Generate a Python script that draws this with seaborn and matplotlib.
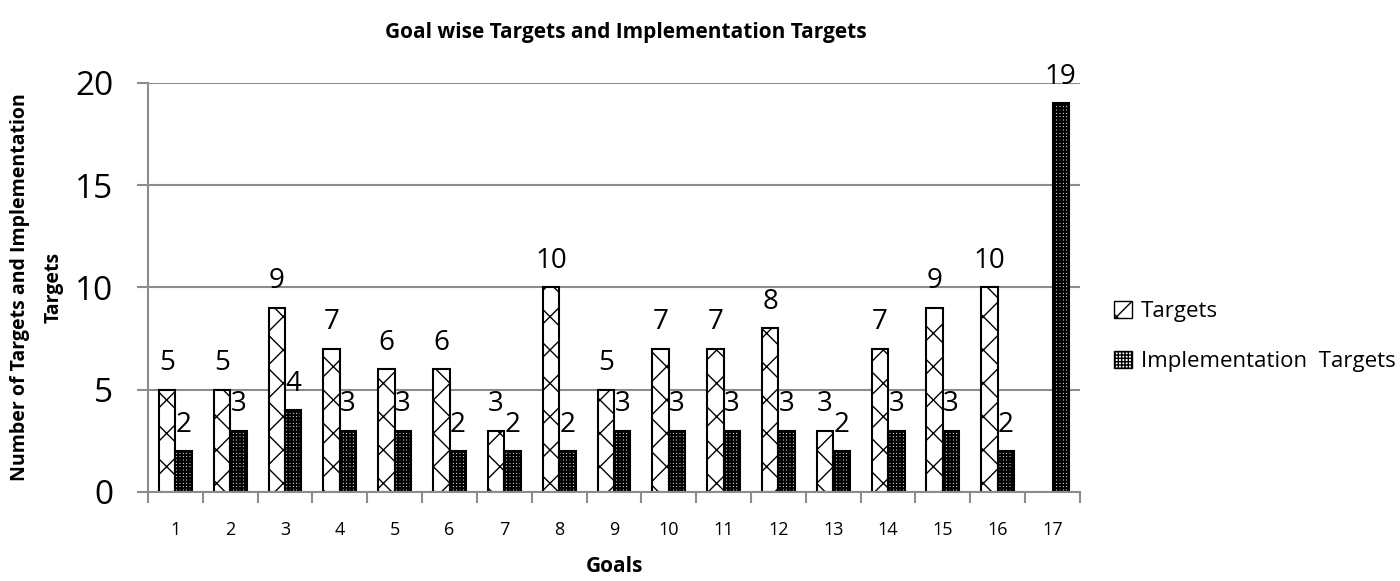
import numpy as np
import pandas as pd
import matplotlib
matplotlib.use("Agg")
import matplotlib.pyplot as plt
from matplotlib.patches import Patch
import seaborn as sns

goals = [str(i) for i in range(1, 18)]
targets = [5, 5, 9, 7, 6, 6, 3, 10, 5, 7, 7, 8, 3, 7, 9, 10, np.nan]
impl_targets = [2, 3, 4, 3, 3, 2, 2, 2, 3, 3, 3, 3, 2, 3, 3, 2, 19]
series_names = ["Targets", "Implementation  Targets"]

sns.set_theme(style="white")
plt.rcParams["font.family"] = ["Open Sans", "DejaVu Sans"]
plt.rcParams["hatch.linewidth"] = 1.0
plt.rcParams["text.color"] = "black"
plt.rcParams["axes.labelcolor"] = "black"

df = pd.DataFrame({
    "Goal": goals * 2,
    "Series": [series_names[0]] * len(goals) + [series_names[1]] * len(goals),
    "Value": list(targets) + list(impl_targets),
})

fig = plt.figure(figsize=(14, 5.81), dpi=100)
ax = fig.add_axes([0.1057, 0.1532, 0.6657, 0.704])

sns.barplot(data=df, x="Goal", y="Value", hue="Series", order=goals,
            hue_order=series_names, palette=["white", "white"],
            edgecolor="black", linewidth=1.5, width=0.6, ax=ax,
            errorbar=None, legend=False)

hatches = ["x", "+++++"]
hatch_lw = [1.0, 1.6]
for cont, h, hl in zip(ax.containers, hatches, hatch_lw):
    for p in cont.patches:
        p.set_hatch(h)
        p.set_edgecolor("black")
        if hasattr(p, "set_hatch_linewidth"):
            p.set_hatch_linewidth(hl)
    labels = ["" if np.isnan(v) else f"{v:g}" for v in cont.datavalues]
    ax.bar_label(cont, labels=labels, fontsize=20, padding=9, color="black")

ax.set_ylim(0, 20)
ax.set_yticks([0, 5, 10, 15, 20])
ax.set_xlim(-0.5, len(goals) - 0.5)
ax.yaxis.grid(True, color="#8c8c8c", linewidth=1.5)
ax.set_axisbelow(True)
for s in ["top", "right"]:
    ax.spines[s].set_visible(False)
for s in ["left", "bottom"]:
    ax.spines[s].set_color("#8c8c8c")
    ax.spines[s].set_linewidth(1.5)

ax.tick_params(axis="y", labelsize=24, length=8, width=1.5, color="#8c8c8c",
               direction="out", left=True, pad=17, labelcolor="black")
ax.set_xticks(np.arange(-0.5, len(goals), 1.0), minor=True)
ax.tick_params(axis="x", which="minor", length=8, width=1.5, color="#8c8c8c",
               direction="out", bottom=True)
ax.tick_params(axis="x", which="major", length=0, labelsize=13, pad=21,
               labelcolor="black")

ax.set_xlabel("Goals", fontsize=15, fontweight="bold", labelpad=12,
              color="black")
ax.set_ylabel("Number of Targets and Implementation\nTargets", fontsize=14,
              fontweight="bold", labelpad=8, linespacing=1.9, color="black")
fig.suptitle("Goal wise Targets and Implementation Targets", fontsize=15,
             fontweight="bold", x=0.447, y=0.962, color="black")

handles = []
for h, hl in zip(hatches, hatch_lw):
    ph = Patch(facecolor="white", edgecolor="black", hatch=h, linewidth=1.0)
    if hasattr(ph, "set_hatch_linewidth"):
        ph.set_hatch_linewidth(hl)
    handles.append(ph)
leg = ax.legend(handles, series_names, loc="center left",
                bbox_to_anchor=(1.015, 0.38), frameon=False,
                fontsize=16, handlelength=0.8, handleheight=0.8,
                labelspacing=1.3, handletextpad=0.4)
for t in leg.get_texts():
    t.set_color("black")

fig.savefig("out.png", dpi=100)
